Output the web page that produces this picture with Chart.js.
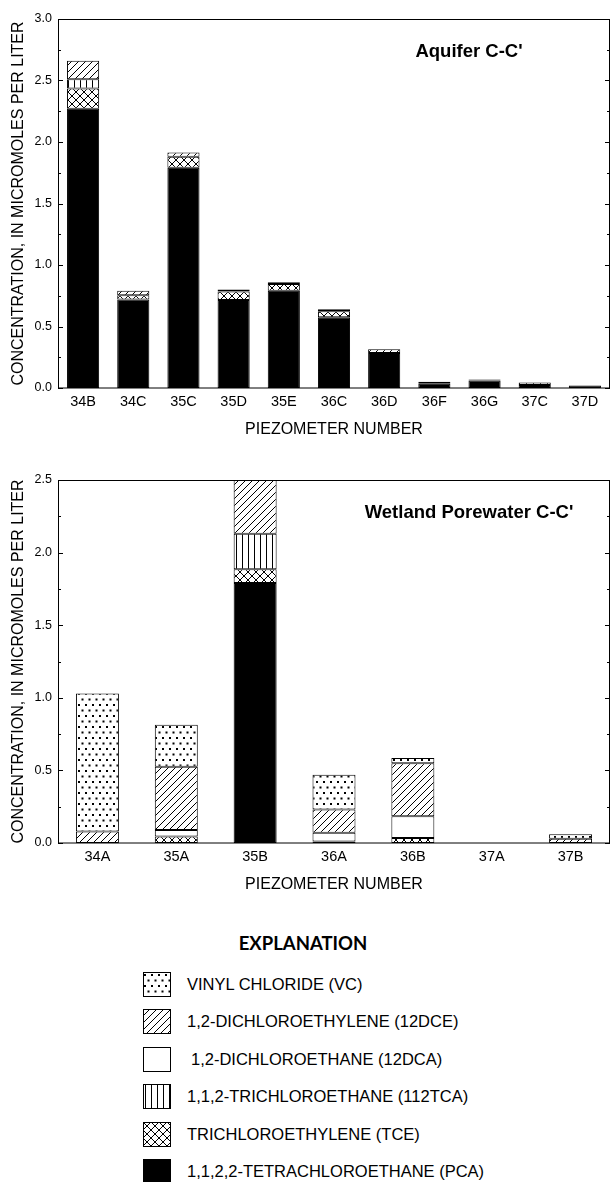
<!DOCTYPE html>
<html>
<head>
<meta charset="utf-8">
<script src="https://cdn.jsdelivr.net/npm/chart.js@4.4.1/dist/chart.umd.min.js"></script>
<style>
  body { margin: 0; background: #fff; width: 611px; height: 1182px; position: relative; overflow: hidden;
         font-family: "Liberation Sans", Arial, sans-serif; color: #000; }
  canvas.chart { position: absolute; left: 0; }
  #aquifer { top: 0; }
  #wetland { top: 460px; }
  #explTitle { position: absolute; left: 0; top: 931px; width: 606px; text-align: center;
               font: bold 18.5px Lato, sans-serif; line-height: 24px; }
  .row { position: absolute; left: 143px; height: 25px; }
  .row canvas { position: absolute; left: 0; top: 0; }
  .row span { position: absolute; left: 44px; top: 0; line-height: 25px; font-size: 16.5px; white-space: nowrap; }
</style>
</head>
<body>
<canvas id="aquifer" class="chart" width="611" height="450"></canvas>
<canvas id="wetland" class="chart" width="611" height="445"></canvas>
<div id="explTitle">EXPLANATION</div>
<div id="legend"></div>
<script>
// compounds, stacked from the bottom of each bar upward
const compounds = ['PCA', 'TCE', '112TCA', '12DCA', '12DCE', 'VC'];
const legendNames = [
  'VINYL CHLORIDE (VC)',
  '1,2-DICHLOROETHYLENE (12DCE)',
  '1,2-DICHLOROETHANE (12DCA)',
  '1,1,2-TRICHLOROETHANE (112TCA)',
  'TRICHLOROETHYLENE (TCE)',
  '1,1,2,2-TETRACHLOROETHANE (PCA)'
];
const legendKeys = ['VC', '12DCE', '12DCA', '112TCA', 'TCE', 'PCA'];

// Aquifer C-C'
const aquiferLabels = ['34B', '34C', '35C', '35D', '35E', '36C', '36D', '36F', '36G', '37C', '37D'];
const aquiferPCA    = [2.27, 0.72, 1.79, 0.715, 0.79, 0.575, 0.285, 0.035, 0.06, 0.025, 0.02];
const aquiferTCE    = [0.165, 0.035, 0.09, 0.07, 0.055, 0.05, null, null, null, null, null];
const aquifer112TCA = [0.075, null, null, null, null, null, null, null, null, null, null];
const aquifer12DCA  = [null, null, null, null, null, null, null, null, null, null, null];
const aquifer12DCE  = [0.15, 0.035, 0.035, 0.015, 0.015, 0.015, 0.03, 0.015, 0.01, 0.02, null];
const aquiferVC     = [null, null, null, null, null, null, null, null, null, null, null];

// Wetland Porewater C-C'
const wetlandLabels = ['34A', '35A', '35B', '36A', '36B', '37A', '37B'];
const wetlandPCA    = [null, null, 1.79, null, null, null, null];
const wetlandTCE    = [null, 0.045, 0.095, 0.01, 0.035, null, null];
const wetland112TCA = [null, null, 0.245, null, null, null, null];
const wetland12DCA  = [null, 0.045, null, 0.06, 0.15, null, null];
const wetland12DCE  = [0.08, 0.435, 0.5, 0.16, 0.365, null, 0.03];
const wetlandVC     = [0.95, 0.29, null, 0.24, 0.035, null, 0.03];

const yTicks = { aquifer: 3.0, wetland: 2.5 };

function makePattern(ctx, key) {
  if (key === 'PCA') return '#000';
  if (key === '12DCA') return '#fff';
  const t = document.createElement('canvas');
  const c = t.getContext('2d');
  if (key === 'VC') {
    t.width = 7; t.height = 11;
    c.fillStyle = '#fff'; c.fillRect(0, 0, 7, 11);
    c.fillStyle = '#000';
    c.fillRect(1, 2, 2, 2);
    c.fillRect(4.5, 7.5, 2, 2);
  } else if (key === '12DCE') {
    t.width = 7; t.height = 7;
    c.fillStyle = '#fff'; c.fillRect(0, 0, 7, 7);
    c.strokeStyle = '#000'; c.lineWidth = 1;
    c.beginPath();
    c.moveTo(-1, 8); c.lineTo(8, -1);
    c.moveTo(-1, 1); c.lineTo(1, -1);
    c.moveTo(6, 8); c.lineTo(8, 6);
    c.stroke();
  } else if (key === '112TCA') {
    t.width = 6; t.height = 6;
    c.fillStyle = '#fff'; c.fillRect(0, 0, 6, 6);
    c.fillStyle = '#000'; c.fillRect(2, 0, 1, 6);
  } else if (key === 'TCE') {
    t.width = 8; t.height = 8;
    c.fillStyle = '#fff'; c.fillRect(0, 0, 8, 8);
    c.strokeStyle = '#000'; c.lineWidth = 1;
    c.beginPath();
    c.moveTo(0, 0); c.lineTo(8, 8);
    c.moveTo(8, 0); c.lineTo(0, 8);
    c.stroke();
  }
  return ctx.createPattern(t, 'repeat');
}

// frame, inward ticks on both sides and the panel label
const frameTicks = {
  id: 'frameTicks',
  afterDatasetsDraw(chart, args, opts) {
    const { ctx, chartArea: a } = chart;
    const y = chart.scales.y;
    ctx.save();
    ctx.strokeStyle = '#000';
    ctx.lineWidth = 1;
    ctx.strokeRect(a.left + 0.5, a.top + 0.5, a.right - a.left - 1, a.bottom - a.top - 0.5);
    for (let v = 0; v <= y.max + 1e-9; v += 0.25) {
      const py = Math.round(y.getPixelForValue(v)) + 0.5;
      const major = Math.abs(v * 2 - Math.round(v * 2)) < 1e-6;
      const len = major ? 5 : 3;
      ctx.beginPath();
      ctx.moveTo(a.left, py); ctx.lineTo(a.left + len, py);
      ctx.moveTo(a.right, py); ctx.lineTo(a.right - len, py);
      ctx.stroke();
    }
    ctx.fillStyle = '#000';
    ctx.font = 'bold 18.5px "Liberation Sans", Arial, sans-serif';
    ctx.textAlign = 'center';
    ctx.textBaseline = 'middle';
    ctx.fillText(opts.text, 469, a.top + 33);
    ctx.restore();
  }
};

function buildChart(id, labels, series, yMax, title, barPct, padTop) {
  const canvas = document.getElementById(id);
  const ctx = canvas.getContext('2d');
  const datasets = compounds.map((key, i) => ({
    label: key,
    data: series[i],
    backgroundColor: makePattern(ctx, key),
    borderColor: '#000',
    borderWidth: 1,
    borderSkipped: false,
    barPercentage: barPct,
    categoryPercentage: 1,
    clip: 0
  }));
  return new Chart(ctx, {
    type: 'bar',
    data: { labels: labels, datasets: datasets },
    options: {
      responsive: false,
      animation: false,
      events: [],
      layout: { padding: { top: padTop, right: 1, left: 0, bottom: 0 } },
      plugins: {
        legend: { display: false },
        tooltip: { enabled: false },
        frameTicks: { text: title }
      },
      scales: {
        x: {
          stacked: true,
          grid: { display: false, drawTicks: false },
          border: { display: false },
          ticks: { padding: 5, color: '#000', font: { size: 14.5, family: '"Liberation Sans", Arial' }, maxRotation: 0, autoSkip: false },
          title: { display: true, text: 'PIEZOMETER NUMBER', color: '#000',
                   font: { size: 16, family: '"Liberation Sans", Arial' }, padding: { top: 0, bottom: 11 } },
          afterFit: s => { s.height = 62; }
        },
        y: {
          stacked: true,
          min: 0,
          max: yMax,
          grid: { display: false, drawTicks: false },
          border: { display: false },
          ticks: { stepSize: 0.5, padding: 6, color: '#000', font: { size: 12.5, family: '"Liberation Sans", Arial' },
                   callback: v => v.toFixed(1) },
          title: { display: true, text: 'CONCENTRATION, IN MICROMOLES PER LITER', color: '#000',
                   font: { size: 16, family: '"Liberation Sans", Arial' }, padding: { top: 9, bottom: 0 } },
          afterFit: s => { s.width = 58; }
        }
      }
    },
    plugins: [frameTicks]
  });
}

buildChart('aquifer', aquiferLabels,
  [aquiferPCA, aquiferTCE, aquifer112TCA, aquifer12DCA, aquifer12DCE, aquiferVC],
  yTicks.aquifer, "Aquifer C-C'", 0.64, 19);

buildChart('wetland', wetlandLabels,
  [wetlandPCA, wetlandTCE, wetland112TCA, wetland12DCA, wetland12DCE, wetlandVC],
  yTicks.wetland, "Wetland Porewater C-C'", 0.545, 20);

// explanation block
const legend = document.getElementById('legend');
legendKeys.forEach((key, i) => {
  const row = document.createElement('div');
  row.className = 'row';
  row.style.top = (972 + i * 37.4) + 'px';
  const sw = document.createElement('canvas');
  sw.width = 28; sw.height = 25;
  const c = sw.getContext('2d');
  c.fillStyle = makePattern(c, key);
  c.fillRect(0, 0, 28, 25);
  c.strokeStyle = '#000'; c.lineWidth = 1;
  c.strokeRect(0.5, 0.5, 27, 24);
  const txt = document.createElement('span');
  txt.textContent = legendNames[i];
  if (key === '12DCA') txt.style.left = '48px';
  row.appendChild(sw);
  row.appendChild(txt);
  legend.appendChild(row);
});
</script>
</body>
</html>
